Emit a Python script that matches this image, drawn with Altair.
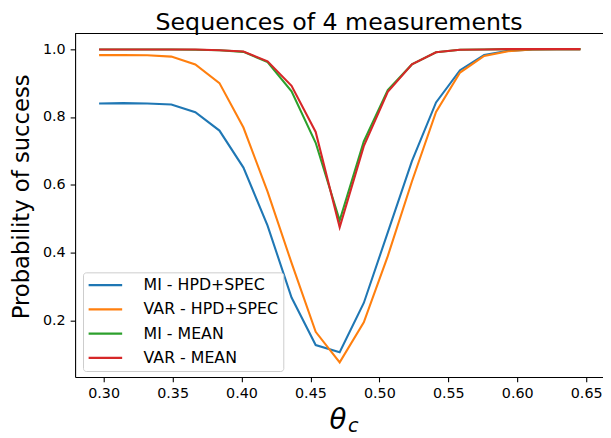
import altair as alt
import pandas as pd

# theta_c values (radians)
theta = [0.2967, 0.3142, 0.3316, 0.3491, 0.3665, 0.3840, 0.4014, 0.4189, 0.4363, 0.4538,
         0.4712, 0.4887, 0.5061, 0.5236, 0.5411, 0.5585, 0.5760, 0.5934, 0.6109, 0.6283, 0.6458]

series_names = ["MI - HPD+SPEC", "VAR - HPD+SPEC", "MI - MEAN", "VAR - MEAN"]
series_colors = ["#1f77b4", "#ff7f0e", "#2ca02c", "#d62728"]

mi_hpd = [0.840, 0.841, 0.840, 0.837, 0.814, 0.760, 0.651, 0.480, 0.268, 0.128, 0.107,
          0.252, 0.460, 0.670, 0.843, 0.938, 0.983, 0.995, 0.999, 1.000, 1.000]
var_hpd = [0.9825, 0.9825, 0.982, 0.978, 0.955, 0.900, 0.769, 0.580, 0.370, 0.167, 0.077,
           0.195, 0.390, 0.610, 0.815, 0.931, 0.980, 0.994, 0.999, 1.000, 1.000]
mi_mean = [0.999, 0.999, 0.999, 0.999, 0.998, 0.997, 0.992, 0.962, 0.876, 0.724, 0.495,
           0.728, 0.879, 0.955, 0.991, 0.998, 0.999, 1.000, 1.000, 1.000, 1.000]
var_mean = [0.999, 0.999, 0.999, 0.999, 0.999, 0.997, 0.993, 0.964, 0.892, 0.756, 0.475,
            0.714, 0.874, 0.955, 0.991, 0.998, 0.999, 1.000, 1.000, 1.000, 1.000]

x_ticks = [0.30, 0.35, 0.40, 0.45, 0.50, 0.55, 0.60, 0.65]
y_ticks = [0.2, 0.4, 0.6, 0.8, 1.0]
y_domain = [0.034, 1.046]
x_domain = [0.2793, 0.6622]

rows = []
for name, vals in zip(series_names, [mi_hpd, var_hpd, mi_mean, var_mean]):
    for i, (t, v) in enumerate(zip(theta, vals)):
        rows.append({"theta": t, "p": v, "series": name, "order": i})
df = pd.DataFrame(rows)

W, H = 535, 348
FONT = "DejaVu Sans"

lines = alt.Chart(df).mark_line(strokeWidth=2.1).encode(
    x=alt.X("theta:Q",
            scale=alt.Scale(domain=x_domain, nice=False, zero=False),
            axis=alt.Axis(values=x_ticks, format=".2f", title=None, grid=False,
                          labelFont=FONT, labelFontSize=14.5, labelColor="black",
                          tickColor="black", tickSize=5, tickWidth=1.1,
                          domainColor="black", domainWidth=1.1,
                          labelPadding=5, labelFlush=False)),
    y=alt.Y("p:Q",
            scale=alt.Scale(domain=y_domain, nice=False, zero=False),
            axis=alt.Axis(values=y_ticks, format=".1f", title="Probability of success",
                          grid=False, labelFont=FONT, labelFontSize=14.5, labelColor="black",
                          tickColor="black", tickSize=5, tickWidth=1.1,
                          domainColor="black", domainWidth=1.1, labelPadding=5,
                          titleFont=FONT, titleFontSize=23, titleFontWeight="normal",
                          titleColor="black", titlePadding=9, titleY=165)),
    color=alt.Color("series:N",
                    scale=alt.Scale(domain=series_names, range=series_colors),
                    legend=alt.Legend(orient="none", legendX=8, legendY=242, title=None,
                                      symbolType="M-2.833,0H2.833", symbolSize=144,
                                      symbolStrokeWidth=2.3, symbolOffset=9.7,
                                      labelOffset=30.7, labelFont=FONT, labelFontSize=16,
                                      labelColor="black", labelLimit=300, padding=5,
                                      rowPadding=8.6, fillColor="rgba(255,255,255,0.8)",
                                      strokeColor="#cccccc", cornerRadius=3)),
    order=alt.Order("order:Q"),
)

# top frame line of the axes box: a horizontal rule at the top of the y domain
frame_top = pd.DataFrame({"top": [y_domain[1]]})
top_spine = alt.Chart(frame_top).mark_rule(color="black", strokeWidth=1.1).encode(
    y=alt.Y("top:Q")
)

theta_lbl = alt.Chart(pd.DataFrame({"k": [0]})).mark_text(
    text="θ", font=FONT, fontSize=28, fontStyle="italic", align="center",
    baseline="alphabetic", color="black"
).encode(x=alt.value(266.5), y=alt.value(401))

c_lbl = alt.Chart(pd.DataFrame({"k": [0]})).mark_text(
    text="c", font=FONT, fontSize=19.5, fontStyle="italic", align="left",
    baseline="alphabetic", color="black"
).encode(x=alt.value(276.5), y=alt.value(404))

chart = alt.layer(lines, top_spine, theta_lbl, c_lbl).properties(
    width=W, height=H, background="white",
    title=alt.TitleParams("Sequences of 4 measurements", font=FONT, fontSize=24,
                          fontWeight="normal", color="black", offset=-2, anchor="middle"),
    autosize=alt.AutoSizeParams(type="none"),
    padding={"left": 68, "top": 23, "right": 0, "bottom": 59},
).configure_view(stroke=None)

chart.save("out.html", embed_options={"renderer": "svg", "actions": False})
